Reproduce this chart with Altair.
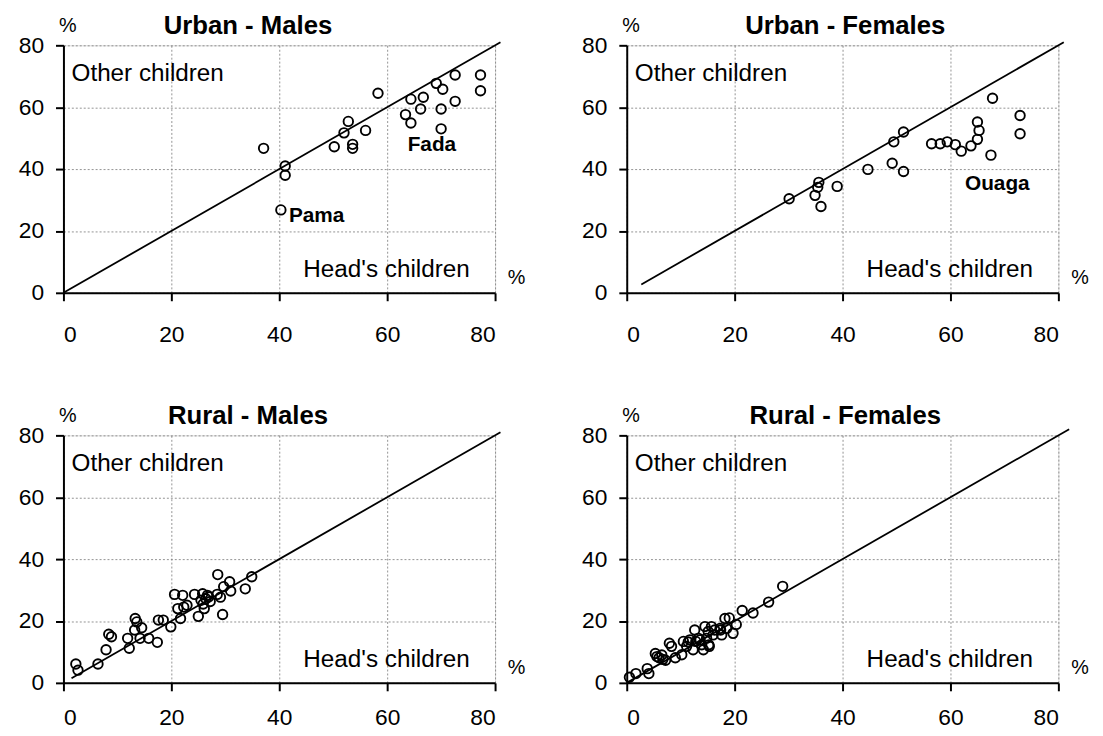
import altair as alt
import pandas as pd

FONT = "Liberation Sans"

# Urban - Males
um_x = [37.1, 41.1, 41.1, 40.3, 50.2, 52.0, 52.8, 53.6, 53.6, 56.0, 58.3, 63.4,
        64.4, 64.4, 66.7, 66.2, 69.1, 70.3, 70.0, 70.0, 72.6, 72.6, 77.3, 77.3]
um_y = [46.7, 41.0, 38.0, 26.8, 47.2, 51.7, 55.4, 48.0, 46.7, 52.5, 64.5, 57.6,
        54.9, 62.6, 63.2, 59.4, 67.7, 65.8, 59.4, 53.0, 70.4, 61.9, 70.4, 65.3]

# Urban - Females
uf_x = [30.1, 35.6, 35.4, 34.9, 36.0, 39.0, 44.7, 49.2, 49.5, 51.3, 51.3, 56.5,
        58.1, 59.4, 60.9, 62.0, 63.8, 65.0, 65.3, 65.0, 67.5, 67.8, 72.9, 72.9]
uf_y = [30.4, 35.7, 34.1, 31.5, 27.9, 34.4, 39.9, 41.9, 48.8, 52.0, 39.2, 48.2,
        48.2, 48.8, 47.9, 45.8, 47.5, 49.6, 52.5, 55.2, 44.5, 62.9, 57.3, 51.4]

# Rural - Males
rm_x = [2.3, 2.7, 6.4, 7.9, 8.4, 8.9, 11.9, 12.2, 13.3, 13.6, 13.2, 14.2, 14.5,
        15.8, 17.4, 17.6, 18.5, 19.9, 20.6, 21.2, 21.7, 22.1, 22.3, 22.9, 24.3,
        25.0, 25.5, 25.8, 26.1, 26.4, 26.7, 27.2, 28.5, 28.6, 29.1, 29.5, 29.7,
        30.8, 31.0, 33.7, 34.9, 25.9, 26.9]
rm_y = [6.1, 4.1, 6.1, 10.7, 15.7, 14.9, 14.4, 11.2, 20.8, 19.7, 17.1, 14.4, 17.8,
        14.4, 13.1, 20.3, 20.3, 18.1, 28.6, 24.0, 20.8, 28.3, 24.5, 25.1, 28.6,
        21.5, 26.7, 28.8, 24.0, 27.2, 28.3, 26.3, 28.6, 35.0, 27.7, 22.1, 31.1,
        32.7, 29.7, 30.4, 34.3, 25.5, 27.8]

# Rural - Females
rf_x = [0.5, 1.7, 3.8, 4.1, 5.3, 5.6, 6.0, 6.7, 7.2, 6.5, 7.9, 8.3, 9.0, 10.2,
        10.5, 11.1, 11.4, 11.7, 12.3, 12.6, 12.8, 13.3, 13.6, 13.9, 14.2, 14.5,
        14.8, 15.1, 15.2, 15.3, 15.7, 16.0, 16.3, 17.3, 17.4, 17.6, 18.2, 18.5,
        19.0, 19.7, 20.3, 21.4, 23.4, 26.3, 28.9]
rf_y = [1.8, 3.0, 4.6, 3.0, 9.5, 8.5, 8.1, 7.6, 7.3, 9.0, 12.8, 11.8, 8.1, 9.1,
        13.4, 11.8, 13.2, 13.9, 10.7, 17.1, 13.4, 14.4, 13.9, 12.3, 10.7, 18.2,
        14.4, 16.6, 12.3, 11.8, 18.2, 15.5, 17.1, 17.6, 17.1, 15.5, 20.8, 17.6,
        21.0, 16.0, 18.9, 23.4, 22.6, 26.1, 31.2]

titles = ["Urban - Males", "Urban - Females", "Rural - Males", "Rural - Females"]
title_x = [34.2, 40.5, 34.2, 40.5]
diag_start = [0.0, 2.7, 1.5, 0.0]
diag_end = [81.0, 81.0, 81.0, 82.0]
xlabel_pad = [23, 23, 16, 16]

# place labels (name, x, y) in data units
place_labels = [
    [("Fada", 63.8, 45.8), ("Pama", 41.8, 22.9)],
    [("Ouaga", 62.7, 33.1)],
    [],
    [],
]

ticks = [0, 20, 40, 60, 80]

W, H = 436, 250


def sx():
    return alt.Scale(domain=[0, 80], nice=False, zero=False)


def txt(df, **kw):
    return alt.Chart(df).mark_text(font=FONT, color="black", clip=False, **kw).encode(
        x=alt.X("x:Q", scale=sx()), y=alt.Y("y:Q", scale=sx()), text="t:N")


def panel(i, xs, ys):
    common = dict(values=ticks, title=None, grid=True, gridDash=[2, 2],
                  gridColor="#777777", gridWidth=0.8, domainColor="black",
                  domainWidth=2, tickColor="black", tickWidth=2, tickSize=8,
                  labelFontSize=23, labelFont=FONT, labelColor="black")
    xaxis = alt.Axis(labelPadding=xlabel_pad[i], **common)
    yaxis = alt.Axis(labelPadding=12, **common)
    pts = pd.DataFrame({"x": xs, "y": ys})
    points = alt.Chart(pts).mark_point(
        shape="circle", filled=False, color="black", size=92, strokeWidth=1.9,
        opacity=1
    ).encode(
        x=alt.X("x:Q", scale=sx(), axis=xaxis),
        y=alt.Y("y:Q", scale=sx(), axis=yaxis),
    )
    ld = pd.DataFrame({"x": [diag_start[i], diag_end[i]],
                       "y": [diag_start[i], diag_end[i]]})
    line = alt.Chart(ld).mark_line(color="black", strokeWidth=1.8, clip=False).encode(
        x=alt.X("x:Q", scale=sx()), y=alt.Y("y:Q", scale=sx()))

    other = txt(pd.DataFrame({"t": ["Other children"], "x": [1.5], "y": [68.6]}),
                align="left", baseline="alphabetic", fontSize=24.5)
    head = txt(pd.DataFrame({"t": ["Head's children"], "x": [75.3], "y": [5.1]}),
               align="right", baseline="alphabetic", fontSize=24.5)
    pct = txt(pd.DataFrame({"t": ["%", "%"], "x": [0.8, 84.0], "y": [84.3, 3.0]}),
              align="center", baseline="alphabetic", fontSize=20)
    ttl = txt(pd.DataFrame({"t": [titles[i]], "x": [title_x[i]], "y": [83.6]}),
              align="center", baseline="alphabetic", fontSize=26, fontWeight="bold")

    layers = [line, points, other, head, pct, ttl]
    if place_labels[i]:
        pl = pd.DataFrame(place_labels[i], columns=["t", "x", "y"])
        layers.append(txt(pl, align="left", baseline="alphabetic", fontSize=21,
                          fontWeight="bold"))

    return alt.layer(*layers).properties(width=W, height=H)


charts = [panel(0, um_x, um_y), panel(1, uf_x, uf_y),
          panel(2, rm_x, rm_y), panel(3, rf_x, rf_y)]

chart = alt.concat(*charts, columns=2, spacing={"row": 144, "column": 133},
                   bounds="flush").configure_view(
    stroke="black", strokeWidth=2
).properties(
    padding={"left": 9, "top": 1, "right": 5, "bottom": 5}
).configure(background="white")

chart.save("out.html", embed_options={"renderer": "svg", "actions": False})
